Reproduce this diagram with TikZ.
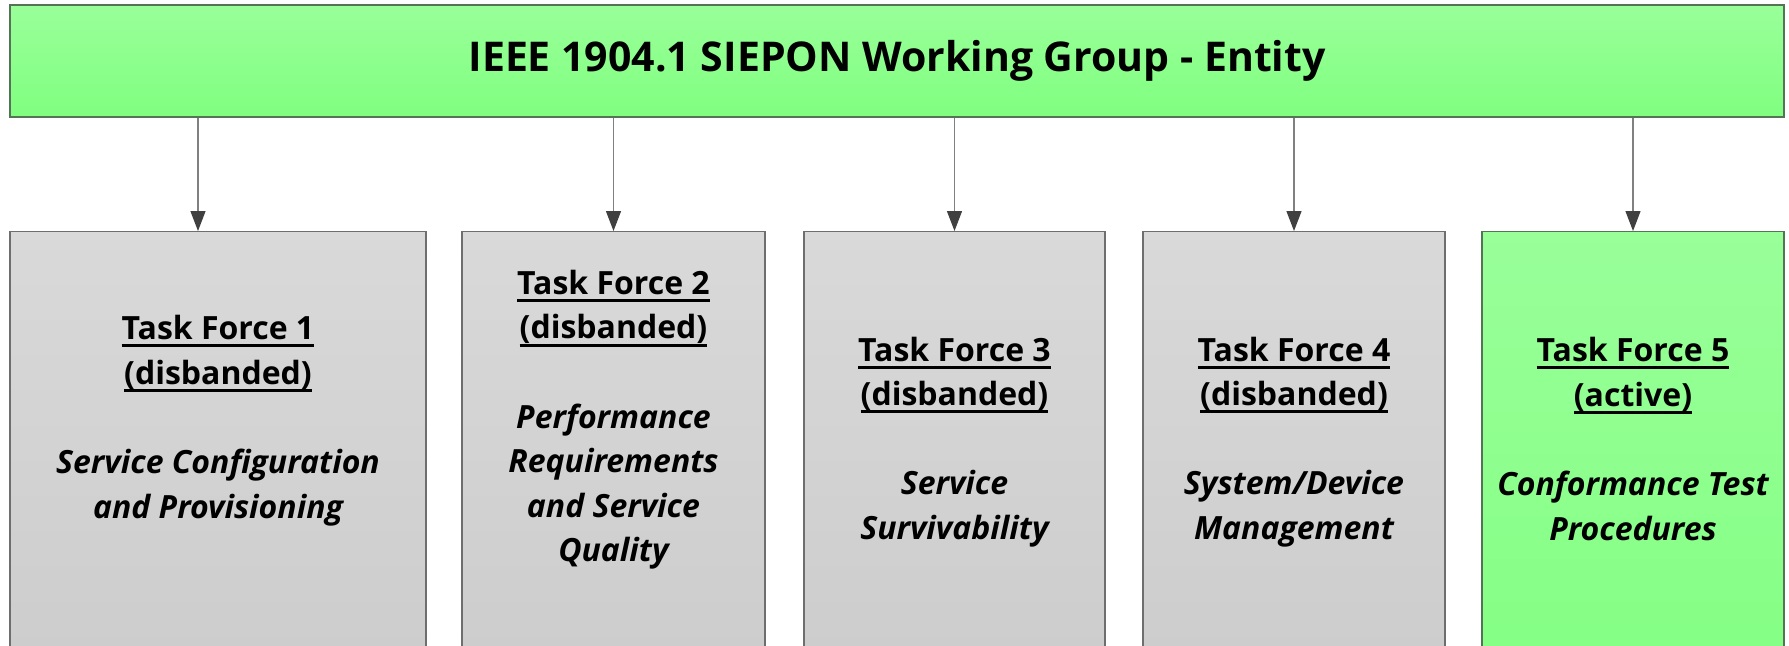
\documentclass[tikz,border=0pt]{standalone}
\usepackage{fontspec}
\setmainfont{Open Sans}
\usepackage{tikz}
\usetikzlibrary{arrows.meta}

\definecolor{greentop}{RGB}{153,255,153}
\definecolor{greenbot}{RGB}{128,255,128}
\definecolor{greytop}{RGB}{217,217,217}
\definecolor{greybot}{RGB}{202,202,202}
\definecolor{greenline}{RGB}{85,115,85}
\definecolor{greyline}{RGB}{110,110,110}
\definecolor{headcol}{RGB}{64,64,64}

\newsavebox{\tfheadbox}
\newcommand{\tfhead}[1]{\sbox{\tfheadbox}{#1}\leavevmode\rlap{\rule[-3.8pt]{\wd\tfheadbox}{1.5pt}}\usebox{\tfheadbox}}

\tikzset{
  wgbox/.style={draw=greenline, line width=0.6pt, top color=greentop, bottom color=greenbot,
    minimum width=887pt, minimum height=56pt, inner sep=0pt,
    font=\fontsize{20.5}{26}\selectfont\bfseries},
  tfbox/.style={draw=greyline, line width=0.6pt, top color=greytop, bottom color=greybot,
    minimum height=264pt, anchor=north, inner sep=0pt},
  activebox/.style={tfbox, draw=greenline, top color=greentop, bottom color=greenbot},
  tftext/.style={align=center, font=\fontsize{16}{22.3}\selectfont\bfseries},
  arr/.style={draw=gray, line width=0.6pt, -{Triangle[width=7.5pt,length=10pt,color=headcol,fill=headcol]}}
}

\begin{document}
\begin{tikzpicture}
    \clip (0,0) rectangle (894.5pt,-322.5pt);
    \fill[white] (0,0) rectangle (894.5pt,-322.5pt);

    % working group
    \node[wgbox] (wg) at (448.5pt,-30.5pt) {IEEE 1904.1 SIEPON Working Group - Entity};

    % task forces
    \node[tfbox, minimum width=208pt] (tf1) at (109pt,-115.5pt) {};
    \node[tfbox, minimum width=151.5pt] (tf2) at (306.75pt,-115.5pt) {};
    \node[tfbox, minimum width=150.5pt] (tf3) at (477.25pt,-115.5pt) {};
    \node[tfbox, minimum width=151pt] (tf4) at (647pt,-115.5pt) {};
    \node[activebox, minimum width=151pt] (tf5) at (816.5pt,-115.5pt) {};

    \node[tftext] (tf1t) at (109pt,-210.3pt) {\tfhead{Task Force 1}\\\tfhead{(disbanded)}\\[22.3pt]
      \itshape Service Configuration\\\itshape and Provisioning};
    \node[tftext] (tf2t) at (306.75pt,-209.9pt) {\tfhead{Task Force 2}\\\tfhead{(disbanded)}\\[22.3pt]
      \itshape Performance\\\itshape Requirements\\\itshape and Service\\\itshape Quality};
    \node[tftext] (tf3t) at (477.25pt,-221pt) {\tfhead{Task Force 3}\\\tfhead{(disbanded)}\\[22.3pt]
      \itshape Service\\\itshape Survivability};
    \node[tftext] (tf4t) at (647pt,-221pt) {\tfhead{Task Force 4}\\\tfhead{(disbanded)}\\[22.3pt]
      \itshape System/Device\\\itshape Management};
    \node[tftext] (tf5t) at (816.5pt,-219.5pt) {\tfhead{Task Force 5}\\\tfhead{(active)}\\[22.3pt]
      \itshape Conformance Test\\\itshape Procedures};

    % connectors
    \draw [arr] ([xshift=-10pt]tf1.north |- wg.south) to ([xshift=-10pt]tf1.north);
    \draw [arr] (tf2.north |- wg.south) to (tf2.north);
    \draw [arr] (tf3.north |- wg.south) to (tf3.north);
    \draw [arr] (tf4.north |- wg.south) to (tf4.north);
    \draw [arr] (tf5.north |- wg.south) to (tf5.north);
\end{tikzpicture}
\end{document}
